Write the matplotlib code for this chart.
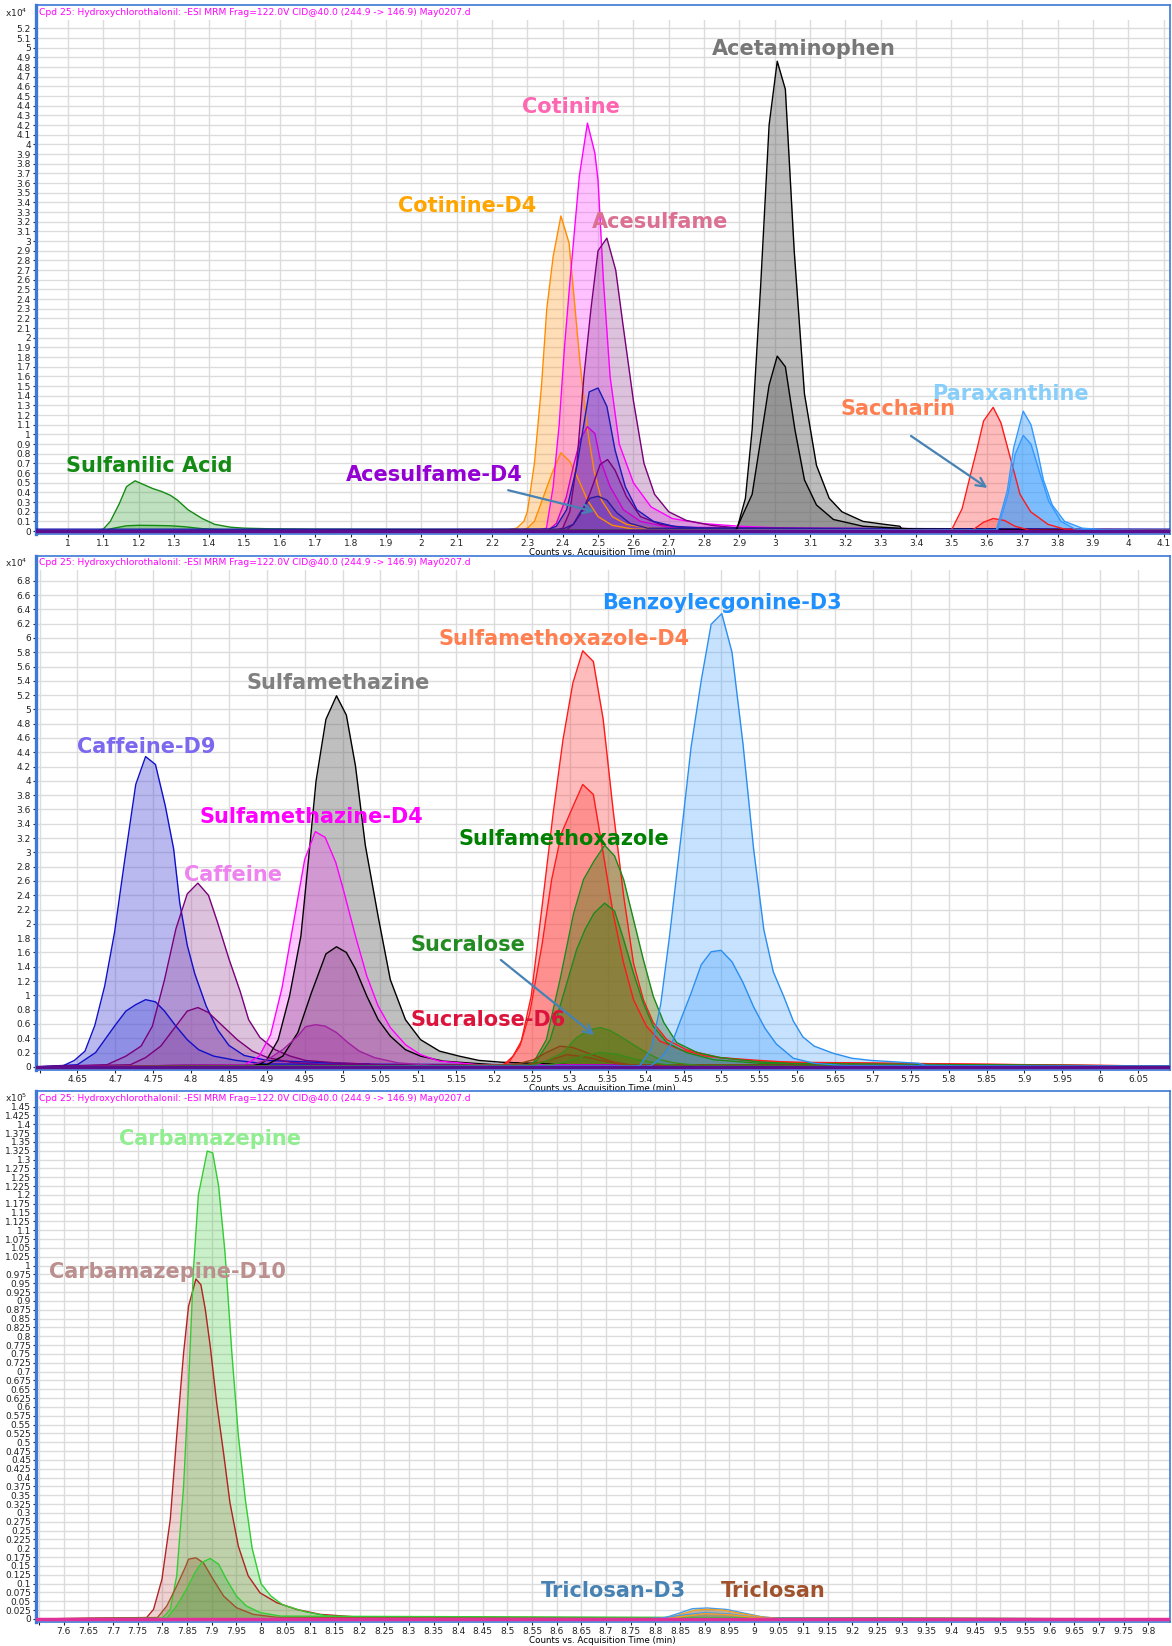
import numpy as np
import matplotlib
matplotlib.use('Agg')
import matplotlib.pyplot as plt

# ---------- panel 1 data (counts x10^4) ----------
sulfanilic_t = [0.91, 1.08, 1.10, 1.12, 1.145, 1.166, 1.19, 1.215, 1.24, 1.265, 1.29, 1.31, 1.34, 1.38, 1.415, 1.46, 1.50, 1.57, 1.70, 2.20, 4.12]
sulfanilic_y = [0.0, 0.005, 0.02, 0.1, 0.28, 0.46, 0.52, 0.48, 0.44, 0.41, 0.37, 0.32, 0.22, 0.13, 0.07, 0.04, 0.03, 0.024, 0.02, 0.015, 0.01]
sulfanilic_q_t = [0.91, 1.10, 1.13, 1.166, 1.20, 1.25, 1.29, 1.33, 1.38, 1.45, 4.12]
sulfanilic_q_y = [0.0, 0.005, 0.03, 0.055, 0.06, 0.058, 0.055, 0.045, 0.025, 0.012, 0.005]

cotinine_d4_t = [0.91, 2.24, 2.27, 2.29, 2.30, 2.32, 2.34, 2.355, 2.373, 2.395, 2.418, 2.43, 2.45, 2.47, 2.49, 2.51, 2.54, 2.58, 2.65, 2.80, 4.12]
cotinine_d4_y = [0.0, 0.01, 0.03, 0.1, 0.2, 0.7, 1.5, 2.3, 2.84, 3.26, 2.98, 2.5, 1.7, 1.05, 0.6, 0.32, 0.15, 0.07, 0.03, 0.015, 0.01]
cotinine_d4_q_t = [0.91, 2.28, 2.30, 2.32, 2.345, 2.37, 2.395, 2.42, 2.445, 2.47, 2.50, 2.54, 2.60, 4.12]
cotinine_d4_q_y = [0.0, 0.005, 0.03, 0.1, 0.35, 0.6, 0.81, 0.72, 0.53, 0.32, 0.15, 0.06, 0.02, 0.01]

cotinine_t = [0.91, 2.33, 2.354, 2.373, 2.39, 2.405, 2.42, 2.447, 2.47, 2.491, 2.50, 2.515, 2.534, 2.56, 2.60, 2.65, 2.71, 2.79, 2.90, 3.10, 4.12]
cotinine_y = [0.0, 0.01, 0.03, 0.46, 1.1, 1.9, 2.56, 3.67, 4.22, 3.91, 3.63, 2.6, 1.6, 0.9, 0.5, 0.25, 0.13, 0.08, 0.05, 0.02, 0.01]
cotinine_q_t = [0.91, 2.36, 2.382, 2.41, 2.43, 2.45, 2.47, 2.491, 2.506, 2.534, 2.572, 2.62, 2.70, 4.12]
cotinine_q_y = [0.0, 0.01, 0.08, 0.35, 0.67, 0.95, 1.08, 1.01, 0.74, 0.46, 0.22, 0.1, 0.04, 0.01]

acesulfame_t = [0.91, 2.38, 2.40, 2.42, 2.44, 2.46, 2.48, 2.50, 2.525, 2.55, 2.57, 2.60, 2.63, 2.66, 2.70, 2.75, 2.82, 2.90, 4.12]
acesulfame_y = [0.0, 0.01, 0.03, 0.2, 0.7, 1.6, 2.3, 2.9, 3.03, 2.7, 2.15, 1.35, 0.7, 0.38, 0.2, 0.11, 0.06, 0.03, 0.01]
acesulfame_q_t = [0.91, 2.41, 2.43, 2.455, 2.477, 2.506, 2.527, 2.548, 2.58, 2.62, 2.676, 2.75, 4.12]
acesulfame_q_y = [0.0, 0.01, 0.07, 0.2, 0.39, 0.69, 0.74, 0.63, 0.36, 0.15, 0.07, 0.03, 0.01]

acesulfame_d4_t = [0.91, 2.36, 2.382, 2.411, 2.44, 2.475, 2.50, 2.525, 2.548, 2.577, 2.61, 2.657, 2.714, 2.80, 4.12]
acesulfame_d4_y = [0.02, 0.02, 0.05, 0.22, 0.67, 1.44, 1.48, 1.29, 0.84, 0.46, 0.22, 0.1, 0.05, 0.03, 0.02]
acesulfame_d4_q_t = [0.91, 2.40, 2.43, 2.449, 2.477, 2.50, 2.525, 2.553, 2.59, 2.64, 4.12]
acesulfame_d4_q_y = [0.0, 0.02, 0.07, 0.19, 0.34, 0.36, 0.32, 0.19, 0.08, 0.03, 0.01]

acetaminophen_t = [0.91, 2.88, 2.893, 2.917, 2.936, 2.96, 2.984, 3.007, 3.03, 3.055, 3.084, 3.118, 3.154, 3.19, 3.25, 3.31, 3.354, 3.36, 3.50, 4.12]
acetaminophen_y = [0.0, 0.01, 0.02, 0.34, 1.05, 2.53, 4.2, 4.86, 4.57, 2.9, 1.42, 0.68, 0.34, 0.2, 0.1, 0.07, 0.05, 0.02, 0.01, 0.01]
acetaminophen_q_t = [0.91, 2.89, 2.936, 2.96, 2.984, 3.007, 3.03, 3.057, 3.084, 3.118, 3.166, 3.25, 3.40, 4.12]
acetaminophen_q_y = [0.0, 0.01, 0.38, 0.94, 1.51, 1.81, 1.70, 1.05, 0.53, 0.27, 0.12, 0.05, 0.02, 0.01]

saccharin_t = [0.91, 3.50, 3.53, 3.555, 3.573, 3.591, 3.618, 3.64, 3.67, 3.694, 3.724, 3.773, 3.82, 4.12]
saccharin_y = [0.0, 0.01, 0.23, 0.6, 0.86, 1.14, 1.28, 1.12, 0.71, 0.38, 0.2, 0.07, 0.02, 0.01]
saccharin_q_t = [0.91, 3.56, 3.59, 3.618, 3.65, 3.68, 3.72, 4.12]
saccharin_q_y = [0.0, 0.01, 0.09, 0.13, 0.11, 0.05, 0.01, 0.0]

paraxanthine_t = [0.91, 3.627, 3.658, 3.676, 3.703, 3.725, 3.743, 3.76, 3.785, 3.82, 3.87, 3.95, 4.12]
paraxanthine_y = [0.0, 0.01, 0.42, 0.86, 1.24, 1.1, 0.83, 0.53, 0.27, 0.1, 0.03, 0.01, 0.01]
paraxanthine_q_t = [0.91, 3.63, 3.66, 3.68, 3.703, 3.725, 3.75, 3.775, 3.81, 3.85, 4.12]
paraxanthine_q_y = [0.0, 0.01, 0.38, 0.79, 0.99, 0.9, 0.6, 0.31, 0.1, 0.02, 0.0]

base1_t = [0.909, 4.118]
base1_y = [0.0, 0.0]

# ---------- panel 2 data (counts x10^4) ----------
caffeine_d9_t = [4.595, 4.63, 4.646, 4.66, 4.673, 4.686, 4.699, 4.712, 4.727, 4.74, 4.753, 4.766, 4.777, 4.785, 4.795, 4.805, 4.82, 4.835, 4.85, 4.87, 4.90, 4.95, 5.0, 5.035, 5.04, 6.092]
caffeine_d9_y = [0.0, 0.01, 0.09, 0.22, 0.58, 1.13, 1.88, 2.86, 3.95, 4.34, 4.23, 3.65, 3.05, 2.3, 1.7, 1.3, 0.85, 0.52, 0.3, 0.16, 0.09, 0.07, 0.05, 0.04, 0.01, 0.01]
caffeine_d9_q_t = [4.595, 4.65, 4.674, 4.699, 4.714, 4.727, 4.74, 4.753, 4.765, 4.78, 4.795, 4.81, 4.83, 4.86, 4.90, 6.092]
caffeine_d9_q_y = [0.0, 0.03, 0.2, 0.57, 0.78, 0.87, 0.94, 0.91, 0.78, 0.57, 0.38, 0.24, 0.15, 0.09, 0.04, 0.01]

caffeine_t = [4.595, 4.689, 4.714, 4.734, 4.749, 4.765, 4.78, 4.795, 4.809, 4.823, 4.835, 4.85, 4.865, 4.876, 4.891, 4.911, 4.931, 4.951, 4.992, 5.053, 6.092]
caffeine_y = [0.0, 0.03, 0.15, 0.29, 0.57, 1.22, 1.93, 2.42, 2.57, 2.40, 2.02, 1.51, 1.05, 0.66, 0.41, 0.24, 0.15, 0.09, 0.056, 0.03, 0.01]
caffeine_q_t = [4.595, 4.72, 4.74, 4.76, 4.78, 4.795, 4.809, 4.823, 4.84, 4.861, 4.881, 4.901, 4.931, 4.97, 6.092]
caffeine_q_y = [0.0, 0.03, 0.13, 0.29, 0.57, 0.78, 0.83, 0.76, 0.59, 0.38, 0.22, 0.13, 0.065, 0.03, 0.01]

smz_d4_t = [4.595, 4.871, 4.89, 4.905, 4.92, 4.935, 4.95, 4.964, 4.977, 4.991, 5.002, 5.017, 5.032, 5.047, 5.063, 5.083, 5.103, 5.128, 5.18, 6.092]
smz_d4_y = [0.0, 0.03, 0.15, 0.45, 1.1, 2.0, 2.9, 3.29, 3.21, 2.86, 2.44, 1.83, 1.27, 0.85, 0.55, 0.31, 0.17, 0.08, 0.03, 0.01]
smz_d4_q_t = [4.595, 4.88, 4.901, 4.921, 4.941, 4.951, 4.964, 4.977, 4.992, 5.007, 5.022, 5.042, 5.073, 5.12, 6.092]
smz_d4_q_y = [0.0, 0.03, 0.1, 0.24, 0.43, 0.56, 0.59, 0.57, 0.48, 0.34, 0.22, 0.13, 0.056, 0.02, 0.01]

smz_t = [4.595, 4.89, 4.90, 4.915, 4.93, 4.945, 4.955, 4.965, 4.978, 4.992, 5.005, 5.017, 5.03, 5.047, 5.063, 5.083, 5.103, 5.128, 5.154, 5.18, 5.21, 5.25, 5.30, 6.092]
smz_y = [0.0, 0.03, 0.1, 0.38, 0.99, 1.83, 2.9, 4.0, 4.86, 5.19, 4.92, 4.21, 3.1, 2.1, 1.22, 0.66, 0.38, 0.22, 0.15, 0.09, 0.065, 0.05, 0.03, 0.01]
smz_q_t = [4.595, 4.90, 4.921, 4.941, 4.959, 4.978, 4.992, 5.005, 5.017, 5.032, 5.047, 5.063, 5.083, 5.103, 5.133, 5.20, 6.092]
smz_q_y = [0.0, 0.03, 0.15, 0.48, 1.04, 1.58, 1.68, 1.6, 1.37, 0.99, 0.66, 0.43, 0.24, 0.15, 0.08, 0.03, 0.01]

smx_d4_t = [4.595, 5.21, 5.216, 5.225, 5.236, 5.249, 5.265, 5.278, 5.291, 5.304, 5.317, 5.331, 5.344, 5.357, 5.371, 5.384, 5.397, 5.41, 5.428, 5.454, 5.481, 5.498, 5.55, 5.60, 6.092]
smx_d4_y = [0.0, 0.02, 0.06, 0.15, 0.36, 0.99, 2.39, 3.55, 4.58, 5.37, 5.82, 5.67, 4.86, 3.60, 2.39, 1.45, 0.94, 0.62, 0.38, 0.24, 0.17, 0.13, 0.09, 0.06, 0.01]
smx_d4_q_t = [4.595, 5.21, 5.22, 5.234, 5.247, 5.263, 5.276, 5.289, 5.304, 5.317, 5.331, 5.344, 5.357, 5.371, 5.384, 5.401, 5.419, 5.446, 5.48, 5.55, 6.092]
smx_d4_q_y = [0.0, 0.02, 0.07, 0.29, 0.75, 1.69, 2.62, 3.27, 3.64, 3.95, 3.81, 2.99, 2.15, 1.45, 0.94, 0.57, 0.36, 0.24, 0.15, 0.07, 0.01]

smx_t = [4.595, 5.24, 5.252, 5.269, 5.287, 5.305, 5.318, 5.332, 5.346, 5.359, 5.371, 5.384, 5.397, 5.41, 5.424, 5.441, 5.468, 5.498, 5.55, 5.60, 6.092]
smx_y = [0.0, 0.02, 0.06, 0.38, 1.22, 2.15, 2.62, 2.88, 3.10, 2.95, 2.62, 2.06, 1.50, 0.99, 0.62, 0.34, 0.2, 0.13, 0.07, 0.04, 0.01]
smx_q_t = [4.595, 5.245, 5.256, 5.274, 5.291, 5.309, 5.32, 5.332, 5.346, 5.359, 5.371, 5.384, 5.397, 5.41, 5.428, 5.454, 5.49, 5.55, 6.092]
smx_q_y = [0.0, 0.02, 0.08, 0.38, 0.99, 1.64, 1.92, 2.15, 2.29, 2.18, 1.78, 1.31, 0.89, 0.57, 0.34, 0.2, 0.1, 0.05, 0.01]

sucralose_t = [4.595, 5.25, 5.269, 5.291, 5.309, 5.327, 5.34, 5.353, 5.366, 5.384, 5.401, 5.419, 5.437, 5.47, 6.092]
sucralose_y = [0.0, 0.02, 0.08, 0.2, 0.41, 0.52, 0.55, 0.51, 0.43, 0.31, 0.2, 0.1, 0.056, 0.02, 0.01]
sucralose_q_t = [4.595, 5.26, 5.291, 5.32, 5.34, 5.36, 5.39, 5.42, 5.45, 6.092]
sucralose_q_y = [0.0, 0.01, 0.06, 0.16, 0.2, 0.18, 0.1, 0.04, 0.01, 0.0]

sucralose_d6_t = [4.595, 5.22, 5.234, 5.252, 5.269, 5.287, 5.304, 5.322, 5.34, 5.357, 5.38, 6.092]
sucralose_d6_y = [0.0, 0.02, 0.05, 0.1, 0.2, 0.29, 0.27, 0.2, 0.13, 0.07, 0.03, 0.01]
sucralose_d6_q_t = [4.595, 5.24, 5.269, 5.296, 5.32, 5.345, 5.37, 6.092]
sucralose_d6_q_y = [0.0, 0.02, 0.08, 0.17, 0.14, 0.08, 0.03, 0.0]

be_d3_t = [4.595, 5.38, 5.3925, 5.4075, 5.42, 5.4315, 5.4475, 5.46, 5.4735, 5.4865, 5.5005, 5.514, 5.5285, 5.5425, 5.556, 5.5685, 5.5825, 5.595, 5.6075, 5.6225, 5.6475, 5.6725, 5.6975, 5.76, 5.77, 5.88, 6.092]
be_d3_y = [0.0, 0.01, 0.02, 0.25, 0.88, 1.82, 3.29, 4.47, 5.41, 6.19, 6.34, 5.80, 4.52, 3.05, 1.92, 1.33, 0.98, 0.64, 0.42, 0.29, 0.19, 0.12, 0.09, 0.05, 0.02, 0.01, 0.01]
be_d3_q_t = [4.595, 5.40, 5.4075, 5.42, 5.435, 5.4475, 5.46, 5.4735, 5.4865, 5.4995, 5.514, 5.5285, 5.5425, 5.5575, 5.5725, 5.595, 5.6225, 5.66, 6.092]
be_d3_q_y = [0.0, 0.01, 0.02, 0.12, 0.34, 0.69, 1.03, 1.43, 1.61, 1.63, 1.47, 1.18, 0.84, 0.54, 0.32, 0.12, 0.05, 0.02, 0.01]

base2_t = [4.595, 6.092]
base2_y = [0.0, 0.0]

# ---------- panel 3 data (counts x10^5) ----------
carba_t = [7.543, 7.80, 7.816, 7.829, 7.843, 7.853, 7.863, 7.873, 7.891, 7.902, 7.914, 7.927, 7.941, 7.954, 7.968, 7.982, 8.0, 8.02, 8.044, 8.09, 8.137, 8.25, 9.844]
carba_y = [0.0, 0.002, 0.027, 0.122, 0.376, 0.66, 0.99, 1.2, 1.324, 1.319, 1.225, 1.036, 0.75, 0.52, 0.34, 0.2, 0.1, 0.065, 0.04, 0.02, 0.008, 0.003, 0.0]
carba_q_t = [7.543, 7.809, 7.829, 7.849, 7.866, 7.88, 7.897, 7.914, 7.93, 7.95, 7.97, 7.998, 8.04, 9.844]
carba_q_y = [0.0, 0.002, 0.037, 0.084, 0.131, 0.16, 0.171, 0.155, 0.112, 0.065, 0.037, 0.018, 0.008, 0.0]

carba_d10_t = [7.543, 7.768, 7.782, 7.799, 7.816, 7.829, 7.843, 7.853, 7.868, 7.878, 7.887, 7.897, 7.91, 7.924, 7.937, 7.954, 7.974, 7.998, 8.032, 8.072, 8.12, 8.20, 9.844]
carba_d10_y = [0.0, 0.004, 0.027, 0.112, 0.282, 0.518, 0.753, 0.885, 0.962, 0.946, 0.876, 0.772, 0.612, 0.47, 0.329, 0.206, 0.122, 0.074, 0.046, 0.027, 0.013, 0.005, 0.0]
carba_d10_q_t = [7.543, 7.79, 7.809, 7.829, 7.846, 7.853, 7.868, 7.883, 7.903, 7.924, 7.95, 7.984, 8.03, 9.844]
carba_d10_q_y = [0.0, 0.004, 0.037, 0.093, 0.145, 0.169, 0.173, 0.159, 0.112, 0.065, 0.032, 0.013, 0.005, 0.0]

triclosan_d3_t = [7.543, 8.775, 8.821, 8.852, 8.875, 8.905, 8.944, 8.975, 9.013, 9.044, 9.30, 9.844]
triclosan_d3_y = [0.0, 0.0, 0.004, 0.018, 0.029, 0.031, 0.027, 0.018, 0.007, 0.002, 0.001, 0.0]
triclosan_d3_q_t = [7.543, 8.80, 8.85, 8.90, 8.95, 9.00, 9.04, 9.844]
triclosan_d3_q_y = [0.0, 0.0, 0.01, 0.018, 0.014, 0.005, 0.001, 0.0]

triclosan_t = [7.543, 8.80, 8.83, 8.859, 8.882, 8.905, 8.936, 8.975, 9.013, 9.05, 9.844]
triclosan_y = [0.0, 0.0, 0.004, 0.016, 0.025, 0.027, 0.025, 0.015, 0.006, 0.001, 0.0]
triclosan_q_t = [7.543, 8.82, 8.86, 8.90, 8.95, 9.0, 9.05, 9.844]
triclosan_q_y = [0.0, 0.0, 0.008, 0.015, 0.012, 0.004, 0.0, 0.0]

base3_t = [7.543, 9.844]
base3_y = [0.0, 0.0]

TITLE = 'Cpd 25: Hydroxychlorothalonil: -ESI MRM Frag=122.0V CID@40.0 (244.9 -> 146.9) May0207.d'
XLABEL = 'Counts vs. Acquisition Time (min)'
FRAME = '#3c78d8'


def trace(ax, t, y, line, fill, alpha=0.3, lw=1.0):
    ax.fill_between(t, y, 0, color=fill, alpha=alpha, lw=0, zorder=2)
    ax.plot(t, y, color=line, lw=lw, zorder=3)


def label(ax, x, y, s, color, size=15):
    ax.text(x, y, s, color=color, fontsize=size, fontweight='bold',
            ha='center', va='center', zorder=6)


def setup(ax, xlim, ylim, xticks, yticks, exp, strip, blank_first=False):
    ax.set_xlim(*xlim)
    ax.set_ylim(*ylim)
    ax.set_xticks(xticks)
    xl = ['%g' % round(v, 3) for v in xticks]
    if blank_first:
        xl[0] = ''
    ax.set_xticklabels(xl)
    ax.set_yticks(yticks)
    ax.set_yticklabels(['%g' % round(v, 3) for v in yticks])
    ax.tick_params(axis='both', direction='out', length=2.5, width=0.8,
                   labelsize=6.5, pad=1, colors='#222222')
    ax.grid(True, color='#dcdcdc', lw=1.0, zorder=0)
    ax.set_axisbelow(True)
    for sp in ax.spines.values():
        sp.set_color(FRAME)
        sp.set_linewidth(1.2)
    ax.spines['left'].set_linewidth(2.4)
    # white title strip where the grid stops
    ax.add_patch(plt.Rectangle((0, 1 - strip), 1, strip, transform=ax.transAxes,
                               facecolor='white', edgecolor='none', zorder=1.5))
    ax.text(0.003, 1 - strip / 2, TITLE, transform=ax.transAxes, color='#ff00ff',
            fontsize=6.6, ha='left', va='center', zorder=7)
    ax.text(-0.0274, 1 - strip / 2, 'x10$^{%d}$' % exp, transform=ax.transAxes,
            fontsize=6.5, ha='left', va='center', color='#222222')
    ax.set_xlabel(XLABEL, fontsize=6.3, labelpad=0)


fig = plt.figure(figsize=(11.72, 16.46), dpi=100)

# ---------------- panel 1 ----------------
ax1 = fig.add_axes([0.0305, 0.6757, 0.9677, 0.3212])
trace(ax1, sulfanilic_t, sulfanilic_y, '#138a13', '#2e9e2e', 0.3)
trace(ax1, sulfanilic_q_t, sulfanilic_q_y, '#138a13', '#2e9e2e', 0.3)
trace(ax1, cotinine_d4_t, cotinine_d4_y, '#ff8c00', '#ff9a20', 0.32)
trace(ax1, cotinine_d4_q_t, cotinine_d4_q_y, '#ff8c00', '#ff9a20', 0.32)
trace(ax1, cotinine_t, cotinine_y, '#ff00ff', '#ff33ff', 0.3)
trace(ax1, cotinine_q_t, cotinine_q_y, '#d000d0', '#c030c0', 0.3)
trace(ax1, acesulfame_t, acesulfame_y, '#7a007a', '#a050a0', 0.35)
trace(ax1, acesulfame_q_t, acesulfame_q_y, '#7a007a', '#a050a0', 0.35)
trace(ax1, acesulfame_d4_t, acesulfame_d4_y, '#1a1ab4', '#5030c0', 0.35)
trace(ax1, acesulfame_d4_q_t, acesulfame_d4_q_y, '#2a1a9a', '#5030c0', 0.35)
trace(ax1, acetaminophen_t, acetaminophen_y, '#000000', '#606060', 0.42)
trace(ax1, acetaminophen_q_t, acetaminophen_q_y, '#000000', '#606060', 0.42)
trace(ax1, saccharin_t, saccharin_y, '#ff1a1a', '#ff4040', 0.35)
trace(ax1, saccharin_q_t, saccharin_q_y, '#ff1a1a', '#ff4040', 0.35)
trace(ax1, paraxanthine_t, paraxanthine_y, '#3399ff', '#3399ff', 0.4)
trace(ax1, paraxanthine_q_t, paraxanthine_q_y, '#3399ff', '#3399ff', 0.4)
ax1.plot(base1_t, base1_y, color='#5b0f8f', lw=2.5, zorder=4)
setup(ax1, (0.909, 4.118), (-0.028, 5.441), np.arange(1.0, 4.15, 0.1),
      np.arange(0, 5.25, 0.1), 4, 0.028)

label(ax1, 3.082, 4.99, 'Acetaminophen', '#777777')
label(ax1, 2.423, 4.39, 'Cotinine', '#ff66b2')
label(ax1, 2.129, 3.36, 'Cotinine-D4', '#ffa500')
label(ax1, 2.675, 3.20, 'Acesulfame', '#db7093')
label(ax1, 3.667, 1.42, 'Paraxanthine', '#87cefa')
label(ax1, 3.349, 1.26, 'Saccharin', '#ff7f50')
label(ax1, 1.229, 0.67, 'Sulfanilic Acid', '#138a13')
label(ax1, 2.037, 0.58, 'Acesulfame-D4', '#9400d3')
ax1.annotate('', xy=(2.497, 0.195), xytext=(2.238, 0.43), zorder=6,
             arrowprops=dict(arrowstyle='->', color='#4682b4', lw=1.6, mutation_scale=16))
ax1.annotate('', xy=(3.608, 0.43), xytext=(3.379, 1.0), zorder=6,
             arrowprops=dict(arrowstyle='->', color='#4682b4', lw=1.6, mutation_scale=16))

# ---------------- panel 2 ----------------
ax2 = fig.add_axes([0.0305, 0.3498, 0.9677, 0.3126])
trace(ax2, caffeine_d9_t, caffeine_d9_y, '#1010c8', '#5050d8', 0.4)
trace(ax2, caffeine_d9_q_t, caffeine_d9_q_y, '#1010c8', '#5050d8', 0.4)
trace(ax2, caffeine_t, caffeine_y, '#7a007a', '#a050a0', 0.35)
trace(ax2, caffeine_q_t, caffeine_q_y, '#7a007a', '#a050a0', 0.35)
trace(ax2, smz_t, smz_y, '#000000', '#606060', 0.4)
trace(ax2, smz_q_t, smz_q_y, '#000000', '#606060', 0.4)
trace(ax2, smz_d4_t, smz_d4_y, '#ff00ff', '#ff40ff', 0.3)
trace(ax2, smz_d4_q_t, smz_d4_q_y, '#a020a0', '#a020a0', 0.3)
trace(ax2, smx_d4_t, smx_d4_y, '#ff1a1a', '#ff4040', 0.35)
trace(ax2, smx_d4_q_t, smx_d4_q_y, '#ff1a1a', '#ff4040', 0.35)
trace(ax2, smx_t, smx_y, '#1a8a1a', '#5a7a1a', 0.45)
trace(ax2, smx_q_t, smx_q_y, '#1a8a1a', '#5a7a1a', 0.45)
trace(ax2, sucralose_d6_t, sucralose_d6_y, '#8b4513', '#8b4513', 0.25)
trace(ax2, sucralose_d6_q_t, sucralose_d6_q_y, '#8b4513', '#8b4513', 0.25)
trace(ax2, sucralose_t, sucralose_y, '#3a8a1a', '#4a7a10', 0.45)
trace(ax2, sucralose_q_t, sucralose_q_y, '#3a8a1a', '#4a7a10', 0.45)
trace(ax2, be_d3_t, be_d3_y, '#2a8ef0', '#3399ff', 0.28)
trace(ax2, be_d3_q_t, be_d3_q_y, '#2a8ef0', '#3399ff', 0.28)
ax2.plot(base2_t, base2_y, color='#5b0f8f', lw=2.5, zorder=4)
setup(ax2, (4.595, 6.092), (-0.047, 7.15), np.arange(4.6, 6.1, 0.05),
      np.arange(0, 6.85, 0.2), 4, 0.027, blank_first=True)

label(ax2, 5.501, 6.49, 'Benzoylecgonine-D3', '#1e90ff')
label(ax2, 5.293, 5.98, 'Sulfamethoxazole-D4', '#ff7f50')
label(ax2, 4.994, 5.37, 'Sulfamethazine', '#808080')
label(ax2, 4.741, 4.48, 'Caffeine-D9', '#7b68ee')
label(ax2, 4.959, 3.50, 'Sulfamethazine-D4', '#ff00ff')
label(ax2, 5.292, 3.19, 'Sulfamethoxazole', '#008000')
label(ax2, 4.855, 2.68, 'Caffeine', '#ee82ee')
label(ax2, 5.166, 1.71, 'Sucralose', '#228b22')
label(ax2, 5.192, 0.65, 'Sucralose-D6', '#dc143c')
ax2.annotate('', xy=(5.335, 0.42), xytext=(5.206, 1.52), zorder=6,
             arrowprops=dict(arrowstyle='->', color='#4682b4', lw=1.6, mutation_scale=16))

# ---------------- panel 3 ----------------
ax3 = fig.add_axes([0.0305, 0.01429, 0.9677, 0.3231])
trace(ax3, carba_d10_t, carba_d10_y, '#b22222', '#c05050', 0.25)
trace(ax3, carba_t, carba_y, '#33cc33', '#44cc44', 0.28)
trace(ax3, carba_d10_q_t, carba_d10_q_y, '#a0522d', '#8b5a2b', 0.3)
trace(ax3, carba_q_t, carba_q_y, '#33cc33', '#44aa44', 0.3)
trace(ax3, triclosan_d3_t, triclosan_d3_y, '#4a9ae8', '#4a9ae8', 0.3)
trace(ax3, triclosan_t, triclosan_y, '#f0a020', '#b07030', 0.4)
trace(ax3, triclosan_d3_q_t, triclosan_d3_q_y, '#4a9ae8', '#4a9ae8', 0.3)
trace(ax3, triclosan_q_t, triclosan_q_y, '#f0a020', '#b07030', 0.4)
ax3.plot(base3_t, base3_y, color='#e0309a', lw=2.5, zorder=4)
setup(ax3, (7.543, 9.844), (-0.01, 1.495), np.arange(7.55, 9.85, 0.05),
      np.arange(0, 1.4501, 0.025), 5, 0.028, blank_first=True)

label(ax3, 7.896, 1.358, 'Carbamazepine', '#90ee90')
label(ax3, 7.811, 0.981, 'Carbamazepine-D10', '#bc8f8f')
label(ax3, 8.715, 0.078, 'Triclosan-D3', '#4682b4')
label(ax3, 9.04, 0.078, 'Triclosan', '#a0522d')

plt.savefig('out.png', dpi=100)
